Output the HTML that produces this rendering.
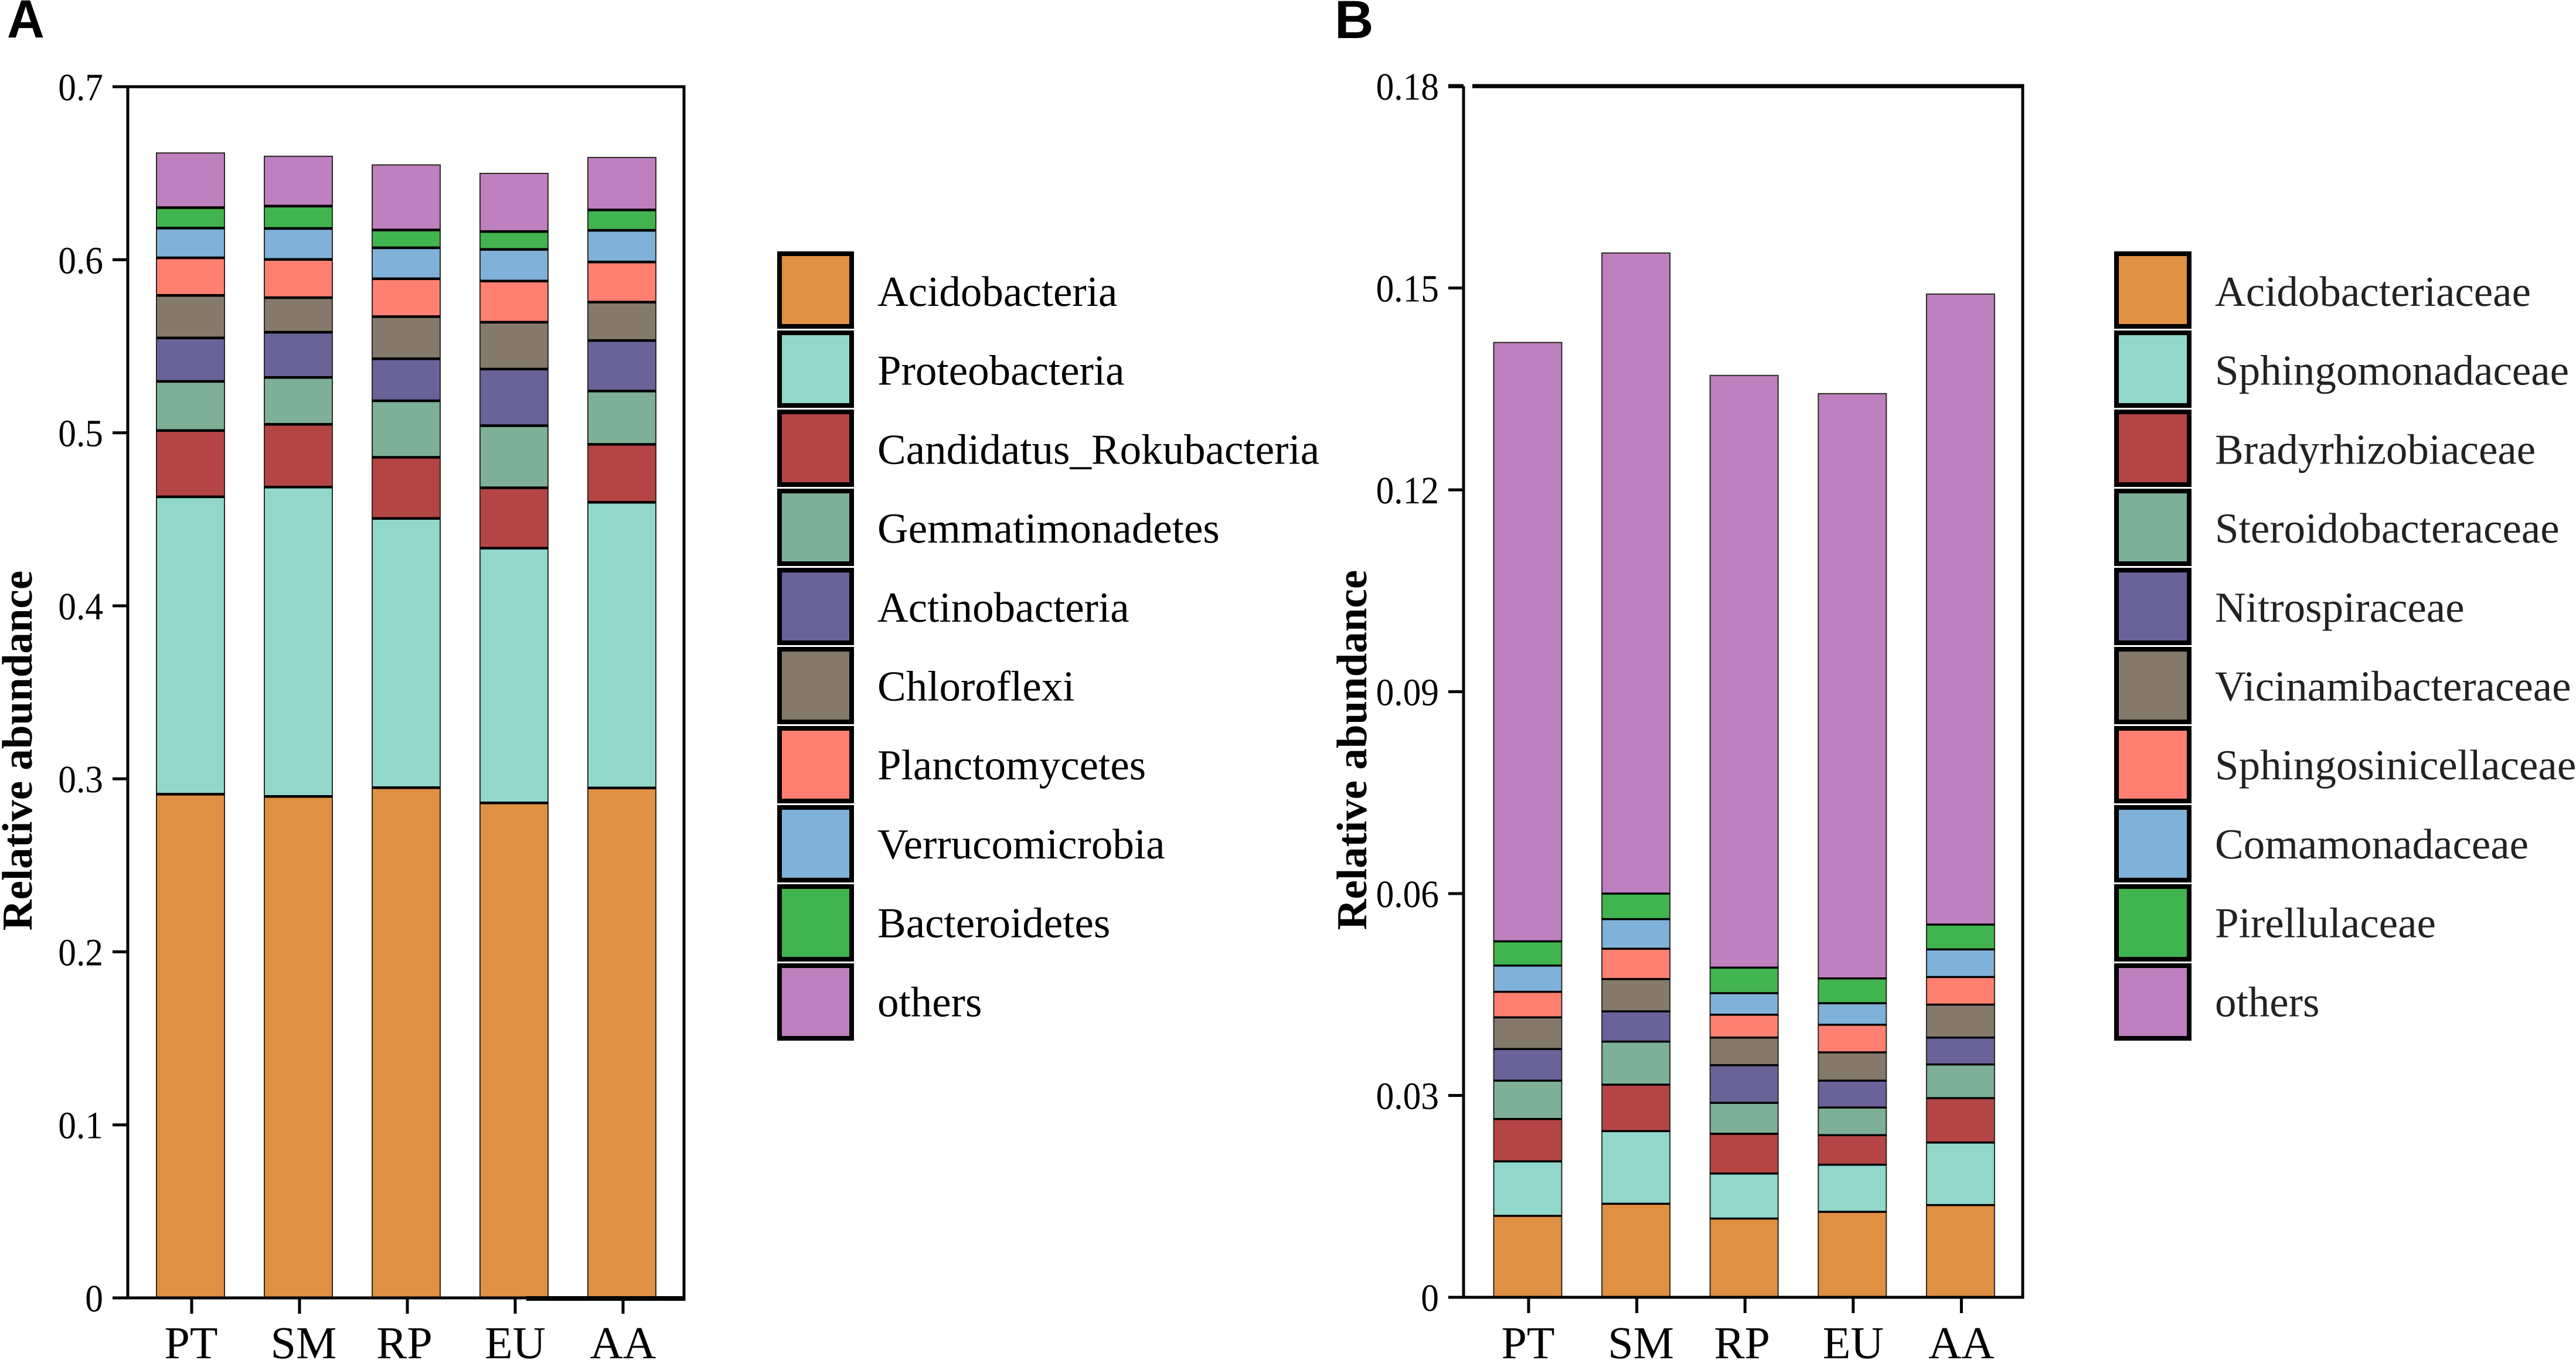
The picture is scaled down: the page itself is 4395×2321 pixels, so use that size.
<!DOCTYPE html>
<html lang="en">
<head>
<meta charset="utf-8">
<title>Relative abundance stacked bars</title>
<style>
html,body{margin:0;padding:0;background:#fff;}
svg{display:block;text-rendering:geometricPrecision;}
text{font-family:"Liberation Serif","Times New Roman",serif;fill:#000;}
.panel-letter{font-family:"Liberation Sans",Arial,sans-serif;font-weight:700;font-size:92px;}
.axis-title{font-weight:700;font-size:73px;}
</style>
</head>
<body>
<svg id="figure" xmlns="http://www.w3.org/2000/svg" width="4395" height="2321" viewBox="0 0 4395 2321">
  <rect x="0" y="0" width="4395" height="2321" fill="#ffffff"/>
  <text class="panel-letter" transform="translate(12,64) scale(0.96,1)">A</text>
  <text class="panel-letter" x="2277" y="65">B</text>
  <text class="axis-title" text-anchor="middle" transform="translate(54,1281) rotate(-90)">Relative abundance</text>
  <text class="axis-title" text-anchor="middle" transform="translate(2331,1280) rotate(-90)">Relative abundance</text>
  <g id="panelA"></g>
  <g id="panelB"></g>
</svg>
<script>
const categories = ['PT', 'SM', 'RP', 'EU', 'AA'];
const seriesColors = ['#E09043', '#91D7CB', '#B54545', '#7DB097', '#696399', '#84796B', '#FF8071', '#80B1D8', '#41B34F', '#BE80BE'];

const phylumNames = ['Acidobacteria', 'Proteobacteria', 'Candidatus_Rokubacteria', 'Gemmatimonadetes', 'Actinobacteria', 'Chloroflexi', 'Planctomycetes', 'Verrucomicrobia', 'Bacteroidetes', 'others'];
const phylumTickValues = [0, 0.1, 0.2, 0.3, 0.4, 0.5, 0.6, 0.7];
const phylumTickLabels = ['0', '0.1', '0.2', '0.3', '0.4', '0.5', '0.6', '0.7'];
const acidobacteria = [0.2911, 0.2898, 0.2949, 0.2861, 0.2947];
const proteobacteria = [0.1719, 0.1788, 0.1556, 0.1472, 0.1651];
const rokubacteria = [0.0383, 0.0363, 0.0353, 0.0349, 0.0335];
const gemmatimonadetes = [0.0284, 0.0271, 0.0327, 0.0359, 0.0308];
const actinobacteria = [0.0251, 0.0261, 0.0243, 0.0327, 0.0292];
const chloroflexi = [0.0246, 0.0200, 0.0243, 0.0271, 0.0222];
const planctomycetes = [0.0217, 0.0221, 0.0219, 0.0238, 0.0232];
const verrucomicrobia = [0.0172, 0.0179, 0.0179, 0.0183, 0.0183];
const bacteroidetes = [0.0118, 0.0129, 0.0103, 0.0103, 0.0118];
const phylumOthers = [0.0316, 0.0288, 0.0376, 0.0336, 0.0303];

const familyNames = ['Acidobacteriaceae', 'Sphingomonadaceae', 'Bradyrhizobiaceae', 'Steroidobacteraceae', 'Nitrospiraceae', 'Vicinamibacteraceae', 'Sphingosinicellaceae', 'Comamonadaceae', 'Pirellulaceae', 'others'];
const familyTickValues = [0, 0.03, 0.06, 0.09, 0.12, 0.15, 0.18];
const familyTickLabels = ['0', '0.03', '0.06', '0.09', '0.12', '0.15', '0.18'];
const acidobacteriaceae = [0.0121, 0.0139, 0.0117, 0.0127, 0.0137];
const sphingomonadaceae = [0.0081, 0.0108, 0.0067, 0.0070, 0.0093];
const bradyrhizobiaceae = [0.0063, 0.0069, 0.0059, 0.0044, 0.0066];
const steroidobacteraceae = [0.0057, 0.0064, 0.0046, 0.0041, 0.0050];
const nitrospiraceae = [0.0047, 0.0045, 0.0056, 0.0040, 0.0040];
const vicinamibacteraceae = [0.0047, 0.0048, 0.0041, 0.0042, 0.0049];
const sphingosinicellaceae = [0.0038, 0.0045, 0.0034, 0.0041, 0.0041];
const comamonadaceae = [0.0039, 0.0044, 0.0032, 0.0032, 0.0041];
const pirellulaceae = [0.0036, 0.0038, 0.0038, 0.0037, 0.0037];
const familyOthers = [0.0890, 0.0952, 0.0880, 0.0869, 0.0937];

const phylumSeries = [acidobacteria, proteobacteria, rokubacteria, gemmatimonadetes, actinobacteria, chloroflexi, planctomycetes, verrucomicrobia, bacteroidetes, phylumOthers];
const familySeries = [acidobacteriaceae, sphingomonadaceae, bradyrhizobiaceae, steroidobacteraceae, nitrospiraceae, vicinamibacteraceae, sphingosinicellaceae, comamonadaceae, pirellulaceae, familyOthers];

const NS = 'http://www.w3.org/2000/svg';

function slug(s) {
  return String(s).toLowerCase().replace(/[^a-z0-9]+/g, '-');
}

function shape(parent, tag, attrs) {
  const el = document.createElementNS(NS, tag);
  for (const k in attrs) el.setAttribute(k, attrs[k]);
  parent.appendChild(el);
  return el;
}

function drawPanel(parent, cfg, names, series, tickValues, tickLabels) {
  const yScale = function (v) {
    return cfg.y0 - (v / cfg.yMax) * (cfg.y0 - cfg.yTop);
  };
  const xScale = function (i) {
    return cfg.firstCenter + i * cfg.step;
  };

  // stacked bars
  categories.forEach(function (cat, c) {
    let base = 0;
    const cx = xScale(c);
    series.forEach(function (values, s) {
      const top = base + values[c];
      const yA = yScale(top);
      const yB = yScale(base);
      const rect = shape(parent, 'rect', {
        x: cx - cfg.barWidth / 2, y: yA, width: cfg.barWidth, height: yB - yA,
        fill: seriesColors[s], stroke: '#2c2a22', 'stroke-width': 2
      });
      
      
      base = top;
    });
    base = 0;
    series.forEach(function (values, s) {
      base += values[c];
      if (s === series.length - 1) return;
      const sep = shape(parent, 'line', {
        x1: cx - cfg.barWidth / 2, x2: cx + cfg.barWidth / 2,
        y1: yScale(base), y2: yScale(base),
        stroke: '#000', 'stroke-width': cfg.sepWidth
      });
      
      
    });
  });

  // frame
  const left = shape(parent, 'line', { x1: cfg.x0, x2: cfg.x0, y1: cfg.yTop, y2: cfg.y0, stroke: '#000', 'stroke-width': 5 });
  
  
  const right = shape(parent, 'line', { x1: cfg.x1, x2: cfg.x1, y1: cfg.yTop, y2: cfg.y0, stroke: '#000', 'stroke-width': 5 });
  
  
  const topLine = shape(parent, 'line', { x1: cfg.topStart, x2: cfg.x1 + 2.5, y1: cfg.yTop, y2: cfg.yTop, stroke: '#000', 'stroke-width': cfg.topWidth });
  
  
  const bottom = shape(parent, 'line', { x1: cfg.x0, x2: cfg.x1 + 2.5, y1: cfg.y0, y2: cfg.y0, stroke: '#000', 'stroke-width': 5 });
  
  
  if (cfg.thickBottomFrom) {
    const thick = shape(parent, 'line', { x1: cfg.thickBottomFrom, x2: cfg.x1 + 2.5, y1: cfg.y0 + 1, y2: cfg.y0 + 1, stroke: '#000', 'stroke-width': 8 });
    
    
  }

  // y ticks
  tickValues.forEach(function (v, i) {
    const y = yScale(v);
    const tick = shape(parent, 'line', { x1: cfg.x0 - 26, x2: cfg.x0, y1: y, y2: y, stroke: '#000', 'stroke-width': i === tickValues.length - 1 ? cfg.topWidth : 5 });
    
    
    const label = shape(parent, 'text', {
      'text-anchor': 'end', 'font-size': 66,
      transform: 'translate(' + (cfg.x0 - 42) + ',' + (y + 23) + ') scale(0.93,1)'
    });
    label.textContent = tickLabels[i];
    
    
  });

  // x ticks
  categories.forEach(function (cat, c) {
    const x = xScale(c) + cfg.tickOffset;
    const tick = shape(parent, 'line', { x1: x, x2: x, y1: cfg.y0, y2: cfg.y0 + 27, stroke: '#000', 'stroke-width': 5 });
    
    
    const nudge = cat === 'SM' ? 7 : (cat === 'RP' ? -5 : (cat === 'PT' ? -1 : 0));
    const label = shape(parent, 'text', { x: x + nudge, y: 2318, 'text-anchor': 'middle', 'font-size': 78 });
    label.textContent = cat;
    
    
  });

  // legend
  names.forEach(function (name, s) {
    const top = 429 + s * 135;
    const swatch = shape(parent, 'rect', {
      x: cfg.legendX + 4, y: top + 4, width: cfg.legendW - 8, height: 124,
      fill: seriesColors[s], stroke: '#000', 'stroke-width': 8
    });
    
    
    const label = shape(parent, 'text', {
      x: cfg.legendTextX, y: 522 + s * 134.7, 'font-size': 73, style: 'fill:' + cfg.legendInk
    });
    label.textContent = name;
    
    
  });
}

drawPanel(document.getElementById('panelA'), {
  x0: 218, x1: 1167, y0: 2215, yTop: 148, yMax: 0.7,
  firstCenter: 325, step: 184, barWidth: 116, tickOffset: 2, sepWidth: 4.5,
  topStart: 192, topWidth: 5, thickBottomFrom: 898,
  legendX: 1326, legendW: 131, legendTextX: 1497, legendInk: '#000'
}, phylumNames, phylumSeries, phylumTickValues, phylumTickLabels);

drawPanel(document.getElementById('panelB'), {
  x0: 2497, x1: 3451, y0: 2214, yTop: 147, yMax: 0.18,
  firstCenter: 2606.5, step: 184.6, barWidth: 116, tickOffset: 1.5, sepWidth: 3.5,
  topStart: 2512, topWidth: 7, thickBottomFrom: 0,
  legendX: 3607, legendW: 132, legendTextX: 3779, legendInk: '#222'
}, familyNames, familySeries, familyTickValues, familyTickLabels);
</script>
</body>
</html>
